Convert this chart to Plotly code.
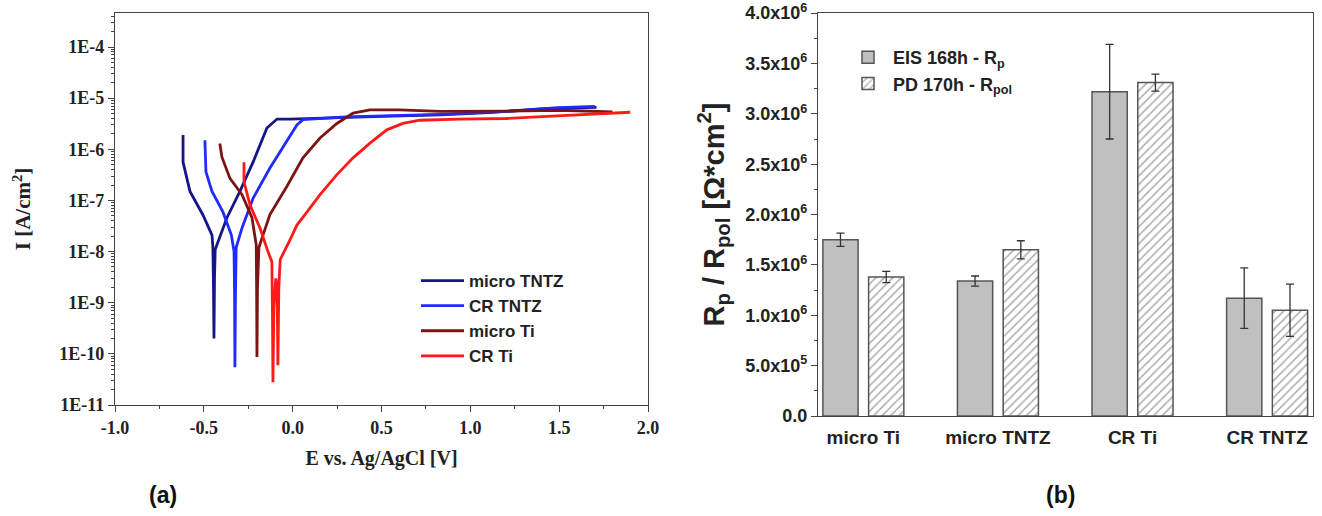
import plotly.graph_objects as go

# ---------------- (a) polarization curves ----------------
micro_tntz_E = [-0.617, -0.617, -0.578, -0.505, -0.454, -0.449, -0.446, -0.443, -0.440, -0.436, -0.42, -0.37,
                -0.297, -0.223, -0.145, -0.088, -0.015, 0.154, 0.5, 0.83, 1.1, 1.43, 1.71]
micro_tntz_I = [1.9e-6, 5.6e-7, 1.5e-7, 5.2e-8, 2.1e-8, 1.2e-8, 2.7e-9, 2.0e-10, 3.0e-9, 1.1e-8, 1.55e-8, 4.6e-8,
                1.5e-7, 5.6e-7, 2.6e-6, 3.9e-6, 3.9e-6, 4.1e-6, 4.4e-6, 4.7e-6, 5.2e-6, 6.3e-6, 6.6e-6]

cr_tntz_E = [-0.494, -0.488, -0.454, -0.392, -0.345, -0.33, -0.327, -0.325, -0.322, -0.318, -0.285, -0.223,
             -0.128, -0.055, 0.024, 0.058, 0.3, 0.83, 1.2, 1.5, 1.70]
cr_tntz_I = [1.5e-6, 3.6e-7, 1.5e-7, 5.9e-8, 2.1e-8, 1.0e-8, 1.5e-9, 5.5e-11, 1.5e-9, 1.2e-8, 2.9e-8, 1.1e-7,
             4.3e-7, 1.1e-6, 3.0e-6, 3.8e-6, 4.3e-6, 4.8e-6, 5.5e-6, 6.5e-6, 6.9e-6]

micro_ti_E = [-0.41, -0.398, -0.353, -0.285, -0.229, -0.205, -0.203, -0.201, -0.198, -0.19, -0.167, -0.128,
              -0.032, 0.058, 0.154, 0.249, 0.34, 0.435, 0.6, 0.83, 1.2, 1.5, 1.80]
micro_ti_I = [1.3e-6, 7.0e-7, 2.7e-7, 1.3e-7, 4.6e-8, 1.35e-8, 2.0e-9, 8.7e-11, 2.0e-9, 1.2e-8, 2.1e-8, 5.3e-8,
              1.9e-7, 6.8e-7, 1.66e-6, 3.2e-6, 5.1e-6, 5.9e-6, 5.9e-6, 5.5e-6, 5.6e-6, 5.8e-6, 5.4e-6]

cr_ti_E = [-0.274, -0.274, -0.24, -0.184, -0.139, -0.117, -0.114, -0.111, -0.106, -0.095, -0.088, -0.083, -0.078,
           -0.07, -0.015, 0.024, 0.08, 0.154, 0.249, 0.34, 0.435, 0.53, 0.62, 0.716, 0.94, 1.2, 1.49, 1.75, 1.90]
cr_ti_I = [5.6e-7, 2.3e-7, 8.1e-8, 2.9e-8, 1.0e-8, 6.3e-9, 8.0e-10, 2.8e-11, 8.0e-10, 3.0e-9, 2.0e-9, 6.0e-11, 2.0e-9,
           7.0e-9, 1.7e-8, 3.3e-8, 5.9e-8, 1.3e-7, 3.2e-7, 6.8e-7, 1.32e-6, 2.4e-6, 3.2e-6, 3.7e-6, 3.9e-6, 4.0e-6,
           4.5e-6, 5.0e-6, 5.3e-6]

curve_names = ["micro TNTZ", "CR TNTZ", "micro Ti", "CR Ti"]
curve_colors = ["#15158a", "#1f2bff", "#7d1414", "#ff1a1a"]

log_tickvals = [1e-11, 1e-10, 1e-9, 1e-8, 1e-7, 1e-6, 1e-5, 1e-4]
log_ticktext = ["1E-11", "1E-10", "1E-9", "1E-8", "1E-7", "1E-6", "1E-5", "1E-4"]
log_minor = [m * 10.0 ** k for k in range(-11, -3) for m in range(2, 10)]

e_tickvals = [-1.0, -0.5, 0.0, 0.5, 1.0, 1.5, 2.0]
e_ticktext = ["-1.0", "-0.5", "0.0", "0.5", "1.0", "1.5", "2.0"]

# ---------------- (b) resistance bars ----------------
samples = ["micro Ti", "micro TNTZ", "CR Ti", "CR TNTZ"]
eis_rp = [1.75e6, 1.34e6, 3.22e6, 1.17e6]
eis_err = [0.065e6, 0.05e6, 0.47e6, 0.30e6]
pd_rpol = [1.38e6, 1.65e6, 3.31e6, 1.05e6]
pd_err = [0.055e6, 0.09e6, 0.085e6, 0.26e6]

rp_tickvals = [0, 0.5e6, 1.0e6, 1.5e6, 2.0e6, 2.5e6, 3.0e6, 3.5e6, 4.0e6]
rp_ticktext = ["0.0", "5.0x10<sup>5</sup>", "1.0x10<sup>6</sup>", "1.5x10<sup>6</sup>", "2.0x10<sup>6</sup>",
               "2.5x10<sup>6</sup>", "3.0x10<sup>6</sup>", "3.5x10<sup>6</sup>", "4.0x10<sup>6</sup>"]


def bold(lst):
    return ["<b>%s</b>" % t for t in lst]


# the page's body margin is removed (see post_script) so the figure fills the window
OFF = 0
W, H = 1322, 516


def fx(px):
    return (px - OFF) / W


def fy(py):
    return 1 - (py - OFF) / H


SERIF = "Liberation Serif"
SANS = "Liberation Sans"
AX = "#444444"
TXT = "#222222"

fig = go.Figure()

curves = [(micro_tntz_E, micro_tntz_I), (cr_tntz_E, cr_tntz_I), (micro_ti_E, micro_ti_I), (cr_ti_E, cr_ti_I)]
for (ex, iy), name, col in zip(curves, curve_names, curve_colors):
    fig.add_trace(go.Scatter(x=ex, y=iy, mode="lines", name="<b>%s</b>" % name, line=dict(color=col, width=2.8),
                             xaxis="x", yaxis="y", legend="legend"))

fig.add_trace(go.Bar(x=samples, y=eis_rp, name="<b>EIS 168h - R<sub>p</sub></b>", xaxis="x2", yaxis="y2",
                     marker=dict(color="#c0c0c0", line=dict(color="#555555", width=1.5)),
                     error_y=dict(type="data", array=eis_err, color="#333333", thickness=1.3, width=4),
                     legend="legend2"))
fig.add_trace(go.Bar(x=samples, y=pd_rpol, name="<b>PD 170h - R<sub>pol</sub></b>", xaxis="x2", yaxis="y2",
                     marker=dict(color="white", line=dict(color="#555555", width=1.5),
                                 pattern=dict(shape="/", fgcolor="#555555", bgcolor="white", size=6, solidity=0.25)),
                     error_y=dict(type="data", array=pd_err, color="#333333", thickness=1.3, width=4),
                     legend="legend2"))

fig.update_layout(
    width=W, height=H, margin=dict(l=0, r=0, t=0, b=0, autoexpand=False),
    paper_bgcolor="white", plot_bgcolor="white",
    barmode="group", bargap=0.32, bargroupgap=0.23,
    xaxis=dict(domain=[fx(115), fx(648)], anchor="y", range=[-1.0, 2.0], automargin=False,
               tickvals=e_tickvals, ticktext=bold(e_ticktext),
               showline=True, linecolor=AX, linewidth=1.3, mirror=True, ticks="outside", ticklen=6, tickcolor=AX,
               minor=dict(tickvals=[-0.75, -0.25, 0.25, 0.75, 1.25, 1.75], ticks="outside", ticklen=3, tickcolor=AX),
               showgrid=False, zeroline=False,
               tickfont=dict(family=SERIF, size=18, color=TXT),
               title=dict(text="<b>E vs. Ag/AgCl [V]</b>", font=dict(family=SERIF, size=20, color=TXT), standoff=14)),
    yaxis=dict(domain=[fy(405), fy(13)], anchor="x", type="log", range=[-11, -3.335], automargin=False,
               tickvals=log_tickvals, ticktext=bold(log_ticktext), ticklabeloverflow="allow",
               showline=True, linecolor=AX, linewidth=1.3, mirror=True, ticks="outside", ticklen=6, tickcolor=AX,
               minor=dict(tickvals=log_minor, ticks="outside", ticklen=3, tickcolor=AX),
               showgrid=False, zeroline=False,
               tickfont=dict(family=SERIF, size=18, color=TXT),
               title=dict(text="<b>I [A/cm<sup>2</sup>]</b>", font=dict(family=SERIF, size=21, color=TXT), standoff=22)),
    xaxis2=dict(domain=[fx(818), fx(1313)], anchor="y2", type="category", range=[-0.337, 3.341], automargin=False,
                tickvals=samples, ticktext=bold(samples), ticklabelstandoff=4,
                showline=True, linecolor=AX, linewidth=1.3, mirror=True, ticks="", showgrid=False,
                tickfont=dict(family=SANS, size=19, color=TXT)),
    yaxis2=dict(domain=[fy(416), fy(13)], anchor="x2", range=[0, 4.001e6], automargin=False,
                tickvals=rp_tickvals, ticktext=bold(rp_ticktext), ticklabeloverflow="allow",
                showline=True, linecolor=AX, linewidth=1.3, mirror=True, ticks="outside", ticklen=6, tickcolor=AX,
                minor=dict(dtick=0.25e6, ticks="outside", ticklen=3, tickcolor=AX),
                showgrid=False, zeroline=False,
                tickfont=dict(family=SANS, size=18, color=TXT),
                title=dict(text="<b>R<sub>p</sub> / R<sub>pol</sub> [Ω*cm<sup>2</sup>]</b>",
                           font=dict(family=SANS, size=29, color=TXT), standoff=12)),
    legend=dict(x=fx(416), y=fy(263), xanchor="left", yanchor="top", bgcolor="rgba(0,0,0,0)",
                font=dict(family=SANS, size=17, color=TXT), itemwidth=43, tracegroupgap=0),
    legend2=dict(x=fx(843), y=fy(39), xanchor="left", yanchor="top", bgcolor="rgba(0,0,0,0)",
                 font=dict(family=SANS, size=18, color=TXT), itemwidth=40,
                 traceorder="grouped", tracegroupgap=6),
    annotations=[
        dict(text="<b>(a)</b>", x=fx(163), y=fy(495), xref="paper", yref="paper", showarrow=False,
             xanchor="center", yanchor="middle", font=dict(family=SANS, size=23, color="#111111")),
        dict(text="<b>(b)</b>", x=fx(1060), y=fy(495), xref="paper", yref="paper", showarrow=False,
             xanchor="center", yanchor="middle", font=dict(family=SANS, size=23, color="#111111")),
    ],
)

fig.write_html("out.html", config={"displayModeBar": False},
               post_script="document.body.style.margin='0';document.body.style.overflow='hidden';")
